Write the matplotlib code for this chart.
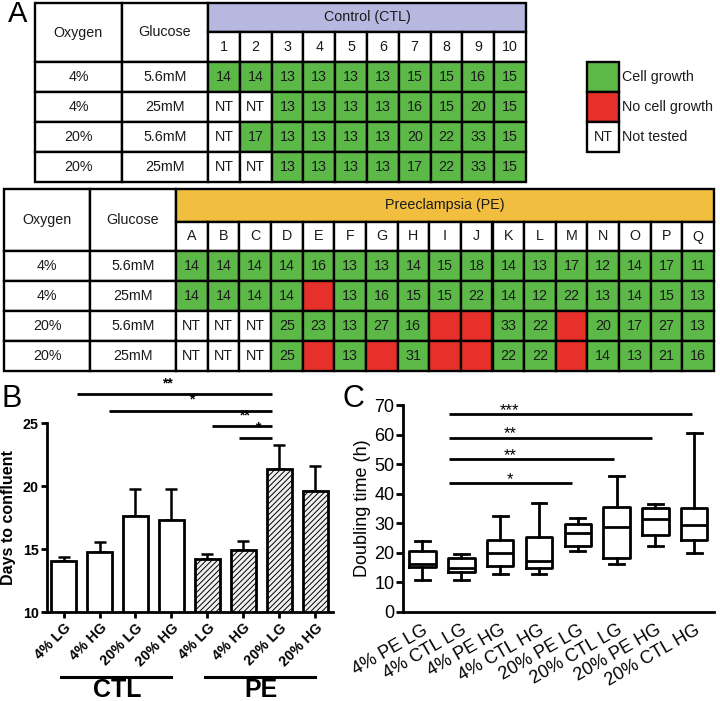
import matplotlib
matplotlib.use('Agg')
import matplotlib.pyplot as plt
from matplotlib.patches import Rectangle
from matplotlib.transforms import blended_transform_factory, ScaledTranslation

plt.rcParams['font.family'] = ['Liberation Sans', 'DejaVu Sans']
plt.rcParams['hatch.linewidth'] = 0.7

# ---------------- data ----------------
oxygen = ['4%', '4%', '20%', '20%']
glucose = ['5.6mM', '25mM', '5.6mM', '25mM']
ctl_ids = [str(i) for i in range(1, 11)]
ctl_days = [
    ['14', '14', '13', '13', '13', '13', '15', '15', '16', '15'],
    ['NT', 'NT', '13', '13', '13', '13', '16', '15', '20', '15'],
    ['NT', '17', '13', '13', '13', '13', '20', '22', '33', '15'],
    ['NT', 'NT', '13', '13', '13', '13', '17', '22', '33', '15'],
]
pe_ids = list('ABCDEFGHIJKLMNOPQ')
pe_days = [
    '14 14 14 14 16 13 13 14 15 18 14 13 17 12 14 17 11'.split(),
    '14 14 14 14 X 13 16 15 15 22 14 12 22 13 14 15 13'.split(),
    'NT NT NT 25 23 13 27 16 X X 33 22 X 20 17 27 13'.split(),
    'NT NT NT 25 X 13 X 31 X X 22 22 X 14 13 21 16'.split(),
]
legend_labels = ['Cell growth', 'No cell growth', 'Not tested']

b_labels = ['4% LG', '4% HG', '20% LG', '20% HG'] * 2
b_groups = ['CTL', 'PE']
b_means = [14.06, 14.75, 17.65, 17.35, 14.2, 14.95, 21.4, 19.6]
b_sem = [0.35, 0.8, 2.15, 2.45, 0.45, 0.7, 1.9, 2.05]
b_sig_text = ['**', '*', '**', '*']
b_sig_start = [0.375, 1.26, 4.12, 4.88]
b_sig_end = [5.8, 5.8, 5.8, 5.8]
b_sig_y = [27.3, 26.0, 24.8, 23.8]
b_sig_textx = [2.9, 3.56, 5.04, 5.41]

c_labels = ['4% PE LG', '4% CTL LG', '4% PE HG', '4% CTL HG',
            '20% PE LG', '20% CTL LG', '20% PE HG', '20% CTL HG']
c_whislo = [10.9, 10.6, 12.8, 12.8, 20.6, 16.3, 22.1, 19.9]
c_q1 = [15.2, 13.4, 15.4, 14.9, 22.2, 18.1, 26.1, 24.2]
c_med = [16.3, 14.9, 19.9, 17.2, 26.8, 28.6, 31.3, 29.4]
c_q3 = [20.5, 18.2, 24.2, 25.2, 29.7, 35.6, 35.0, 35.0]
c_whishi = [23.8, 19.7, 32.3, 36.8, 31.8, 45.8, 36.4, 60.5]
c_sig_text = ['***', '**', '**', '*']
c_sig_start = [0.69, 0.69, 0.69, 0.69]
c_sig_end = [6.94, 5.92, 4.94, 3.85]
c_sig_y = [66.9, 58.9, 51.6, 43.5]
c_sig_textx = [2.25, 2.25, 2.25, 2.25]

GREEN = '#5cb947'
RED = '#e8302a'
LAV = '#b7b8e0'
ORANGE = '#f2be3f'
TXT = '#1a1a1a'

W, H = 720, 701
fig = plt.figure(figsize=(W / 100, H / 100), dpi=100)
axA = fig.add_axes([0, 0, 1, 1])
axA.set_xlim(0, W)
axA.set_ylim(H, 0)
axA.axis('off')

LW = 1.7


def cell(x, y, w, h, fc='white', txt=None, fs=10.3):
    axA.add_patch(Rectangle((x, y), w, h, facecolor=fc, edgecolor='black', lw=LW))
    if txt:
        axA.text(x + w / 2, y + h / 2, txt, ha='center', va='center', fontsize=fs, color=TXT)


def state_color(v):
    if v == 'NT':
        return 'white', 'NT'
    if v == 'X':
        return RED, None
    return GREEN, v


def draw_table(x0, y0, oxw, glw, cw, hh, ih, rh, title, title_fc, ids, vals):
    ncol = len(ids)
    cell(x0, y0, oxw, hh + ih, txt='Oxygen')
    cell(x0 + oxw, y0, glw, hh + ih, txt='Glucose')
    cx0 = x0 + oxw + glw
    cell(cx0, y0, cw * ncol, hh, fc=title_fc, txt=title)
    for j, lab in enumerate(ids):
        cell(cx0 + j * cw, y0 + hh, cw, ih, txt=lab)
    for i in range(len(oxygen)):
        yy = y0 + hh + ih + i * rh
        cell(x0, yy, oxw, rh, txt=oxygen[i])
        cell(x0 + oxw, yy, glw, rh, txt=glucose[i])
        for j in range(ncol):
            fc, t = state_color(vals[i][j])
            cell(cx0 + j * cw, yy, cw, rh, fc=fc, txt=t)


draw_table(35, 3, 87, 86, 31.8, 29, 30, 30, 'Control (CTL)', LAV, ctl_ids, ctl_days)
draw_table(4, 189, 86, 86, 31.65, 33, 29, 30, 'Preeclampsia (PE)', ORANGE, pe_ids, pe_days)

# legend
for k, (fc, t) in enumerate([(GREEN, None), (RED, None), ('white', 'NT')]):
    cell(587, 62 + k * 30, 32, 30, fc=fc, txt=t)
    axA.text(622, 62 + k * 30 + 15, legend_labels[k], ha='left', va='center', fontsize=10.3, color=TXT)

axA.text(8, 14, 'A', fontsize=21, ha='left', va='center')
axA.text(2, 399, 'B', fontsize=22, ha='left', va='center')
axA.text(343, 399, 'C', fontsize=22, ha='left', va='center')

# ---------------- panel B ----------------
axB = fig.add_axes([47 / W, 1 - 612.3 / H, 286 / W, 189 / H])
xb = list(range(len(b_means)))
for i in xb:
    pe = i >= 4
    axB.bar(i, b_means[i], width=0.68, bottom=0, color='#f0f0f0' if pe else 'white',
            edgecolor='black', lw=2, hatch='//////' if pe else None, zorder=2)
axB.errorbar(xb, b_means, yerr=[[0] * len(xb), b_sem], fmt='none', ecolor='black',
             elinewidth=1.8, capsize=4.5, capthick=1.8, zorder=1)
axB.set_ylim(10, 25)
axB.set_xlim(-0.46, 7.49)
axB.set_yticks([10, 15, 20, 25])
axB.set_xticks(xb)
axB.set_xticklabels(b_labels, rotation=45, ha='right', rotation_mode='anchor',
                    fontsize=10.3, fontweight='bold')
offB = ScaledTranslation(5 / 100, 0, fig.dpi_scale_trans)
for lab in axB.get_xticklabels():
    lab.set_transform(lab.get_transform() + offB)
for lab in axB.get_yticklabels():
    lab.set_fontweight('bold')
    lab.set_fontsize(10.3)
axB.set_ylabel('Days to confluent', fontsize=11.5, fontweight='bold', labelpad=5)
for s in ['top', 'right']:
    axB.spines[s].set_visible(False)
for s in ['left', 'bottom']:
    axB.spines[s].set_linewidth(2)
axB.tick_params(width=2, length=4, direction='out', pad=2)
for k in range(len(b_sig_text)):
    axB.plot([b_sig_start[k], b_sig_end[k]], [b_sig_y[k]] * 2, color='black', lw=2,
             clip_on=False, solid_capstyle='butt')
    axB.text(b_sig_textx[k], b_sig_y[k] + 0.3, b_sig_text[k], ha='center', va='bottom',
             fontsize=10, fontweight='bold')

tB = blended_transform_factory(axB.transData, axA.transData)
for g, name in enumerate(b_groups):
    first = 4 * g
    axA.plot([first - 0.07, first + 2.99], [677, 677], color='black', lw=2.2, transform=tB)
    axA.text(first + 1.5, 690, name, ha='center', va='center', fontsize=18,
             fontweight='bold', transform=tB)

# ---------------- panel C ----------------
axC = fig.add_axes([402.7 / W, 1 - 611.7 / H, (714 - 402.7) / W, (611.7 - 405) / H])
stats = []
for i in range(len(c_labels)):
    stats.append(dict(label=c_labels[i], whislo=c_whislo[i], q1=c_q1[i], med=c_med[i],
                      q3=c_q3[i], whishi=c_whishi[i], fliers=[]))
pos = list(range(len(c_labels)))
axC.bxp(stats, positions=pos, widths=0.68, capwidths=0.38, showfliers=False,
        boxprops=dict(lw=2, color='black'), whiskerprops=dict(lw=2, color='black'),
        capprops=dict(lw=2, color='black'), medianprops=dict(lw=2, color='black'))
axC.set_ylim(0, 70)
axC.set_xlim(-0.51, 7.51)
axC.set_yticks(range(0, 71, 10))
axC.set_xticks(pos)
axC.set_xticklabels(c_labels, rotation=30, ha='right', rotation_mode='anchor', fontsize=13)
offC = ScaledTranslation(14 / 100, 0, fig.dpi_scale_trans)
for lab in axC.get_xticklabels():
    lab.set_transform(lab.get_transform() + offC)
axC.tick_params(axis='y', labelsize=13, width=2, length=5, pad=1)
axC.tick_params(axis='x', length=0, pad=7)
axC.set_ylabel('Doubling time (h)', fontsize=13, labelpad=2)
for s in ['top', 'right']:
    axC.spines[s].set_visible(False)
for s in ['left', 'bottom']:
    axC.spines[s].set_linewidth(2)
for k in range(len(c_sig_text)):
    axC.plot([c_sig_start[k], c_sig_end[k]], [c_sig_y[k]] * 2, color='black', lw=2,
             clip_on=False, solid_capstyle='butt')
    axC.text(c_sig_textx[k], c_sig_y[k] - 1.2, c_sig_text[k], ha='center', va='bottom',
             fontsize=12)

fig.savefig('out.png', dpi=100)
